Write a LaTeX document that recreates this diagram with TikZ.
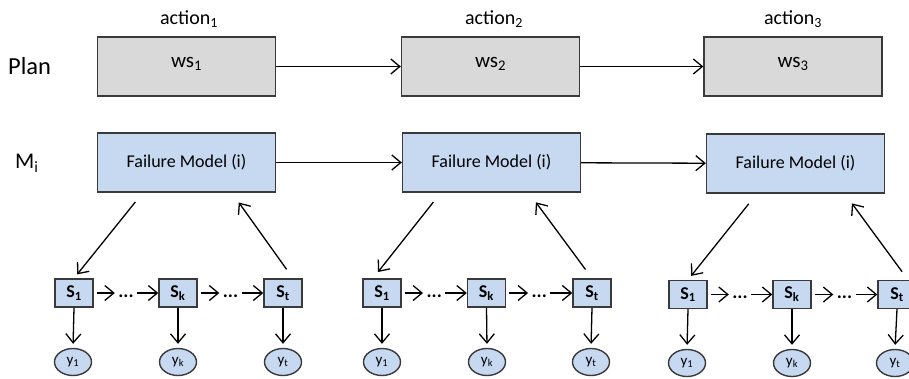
\documentclass[tikz,border=0pt]{standalone}
\usepackage{fontspec}
\setmainfont{Carlito}
\usetikzlibrary{arrows.meta,shapes.geometric,calc}
\definecolor{bgray}{HTML}{D9D9D9}
\definecolor{bblue}{HTML}{C6D9F1}
\definecolor{bline}{HTML}{3A3A3A}
\begin{document}
\begin{tikzpicture}[x=1pt,y=-1pt,
  arr/.style={-{Straight Barb[length=9pt,width=15pt,line width=1.3pt]}, line width=1.3pt},
  bigbox/.style={draw=bline, line width=1.4pt, minimum width=178pt, minimum height=59pt, inner sep=0pt},
  planbox/.style={bigbox, fill=bgray, font=\fontsize{21}{24}\selectfont},
  failbox/.style={bigbox, fill=bblue, font=\fontsize{18}{21}\selectfont},
  sbox/.style={draw=bline, line width=1.4pt, fill=bblue, minimum width=38pt, minimum height=28pt, inner sep=0pt, font=\bfseries\fontsize{18}{20}\selectfont},
  obs/.style={ellipse, draw=bline, line width=1.4pt, fill=bblue, minimum width=37pt, minimum height=27pt, inner sep=0pt, font=\fontsize{15}{17}\selectfont},
  dotsn/.style={inner sep=0pt, minimum width=22pt, font=\bfseries\fontsize{19}{20}\selectfont},
  lbl/.style={inner sep=0pt, font=\fontsize{20}{23}\selectfont},
  side/.style={inner sep=0pt, anchor=west}
]
\clip (0,0) rectangle (909,378);
\useasboundingbox (0,0) rectangle (909,378);

% side labels
\node[side, font=\fontsize{24.5}{28}\selectfont] (plan) at (8,66) {Plan};
\node[side, font=\fontsize{22.5}{26}\selectfont] (mi) at (15,163) {M\textsubscript{i}};

% action labels
\node[lbl] (a1) at (189,19) {action\textsubscript{1}};
\node[lbl] (a2) at (494,19) {action\textsubscript{2}};
\node[lbl] (a3) at (793,19) {action\textsubscript{3}};

% plan boxes
\node[planbox] (p1) at (186.5,66.5) {\raisebox{8pt}{ws\textsubscript{1}}};
\node[planbox] (p2) at (490.5,66.5) {\raisebox{8pt}{ws\textsubscript{2}}};
\node[planbox] (p3) at (793,66.5) {\raisebox{8pt}{ws\textsubscript{3}}};
\draw[arr] (p1) -- (p2);
\draw[arr] (p2) -- (p3);

% failure model boxes
\node[failbox] (f1) at (186.5,162.5) {Failure Model (i)};
\node[failbox] (f2) at (491.5,162.5) {Failure Model (i)};
\node[failbox] (f3) at (795.5,163.5) {Failure Model (i)};
\draw[arr] (f1) -- (f2);
\draw[arr] (f2) -- (f3);

% group 1
\node[sbox] (g1s1) at (74,293) {S\textsubscript{1}};
\node[sbox] (g1sk) at (178,293) {S\textsubscript{k}};
\node[sbox] (g1st) at (283,293) {S\textsubscript{t}};
% group 2
\node[sbox] (g2s1) at (382,293) {S\textsubscript{1}};
\node[sbox] (g2sk) at (486.5,293) {S\textsubscript{k}};
\node[sbox] (g2st) at (592,293) {S\textsubscript{t}};
% group 3
\node[sbox] (g3s1) at (688,294.5) {S\textsubscript{1}};
\node[sbox] (g3sk) at (792,294.5) {S\textsubscript{k}};
\node[sbox] (g3st) at (897,294.5) {S\textsubscript{t}};

% observations
\node[obs] (g1y1) at (73,362) {y\textsubscript{1}};
\node[obs] (g1yk) at (178,362) {y\textsubscript{k}};
\node[obs] (g1yt) at (283,362) {y\textsubscript{t}};
\node[obs] (g2y1) at (382,362) {y\textsubscript{1}};
\node[obs] (g2yk) at (487,362) {y\textsubscript{k}};
\node[obs] (g2yt) at (591,362) {y\textsubscript{t}};
\node[obs] (g3y1) at (687,363) {y\textsubscript{1}};
\node[obs] (g3yk) at (792,363) {y\textsubscript{k}};
\node[obs] (g3yt) at (895,363) {y\textsubscript{t}};

% chains
\foreach \g in {1,2,3}{
  \node[dotsn] (g\g d1) at ($(g\g s1.east)!0.5!(g\g sk.west)+(0,3)$) {...};
  \node[dotsn] (g\g d2) at ($(g\g sk.east)!0.5!(g\g st.west)+(0,3)$) {...};
  \draw[arr, shorten <=3pt] (g\g s1.east) -- (g\g d1.west |- g\g s1.east);
  \draw[arr] (g\g d1.east |- g\g s1.east) -- (g\g sk.west);
  \draw[arr, shorten <=3pt] (g\g sk.east) -- (g\g d2.west |- g\g sk.east);
  \draw[arr] (g\g d2.east |- g\g sk.east) -- (g\g st.west);
  \draw[arr, shorten >=4pt] (g\g s1.south) -- (g\g y1.north);
  \draw[arr, shorten >=4pt] (g\g sk.south) -- (g\g yk.north);
  \draw[arr, shorten >=4pt] (g\g st.south) -- (g\g yt.north);
}

% failure model <-> chain
\draw[arr, shorten <=12pt, shorten >=5pt] ($(f1.south west)+(46,0)$) -- (g1s1.north);
\draw[arr, shorten <=11pt, shorten >=12pt] ($(g1st.north)+(10,0)$) -- ($(f1.south west)+(135,0)$);
\draw[arr, shorten <=12pt, shorten >=8pt] ($(f2.south west)+(39,0)$) -- ($(g2s1.north)+(-9,0)$);
\draw[arr, shorten <=11pt, shorten >=12pt] (g2st.north) -- ($(f2.south west)+(127,0)$);
\draw[arr, shorten <=13pt, shorten >=5pt] ($(f3.south west)+(51,0)$) -- (g3s1.north);
\draw[arr, shorten <=10pt, shorten >=12pt] ($(g3st.north)+(11,0)$) -- ($(f3.south west)+(139,0)$);
\end{tikzpicture}
\end{document}
